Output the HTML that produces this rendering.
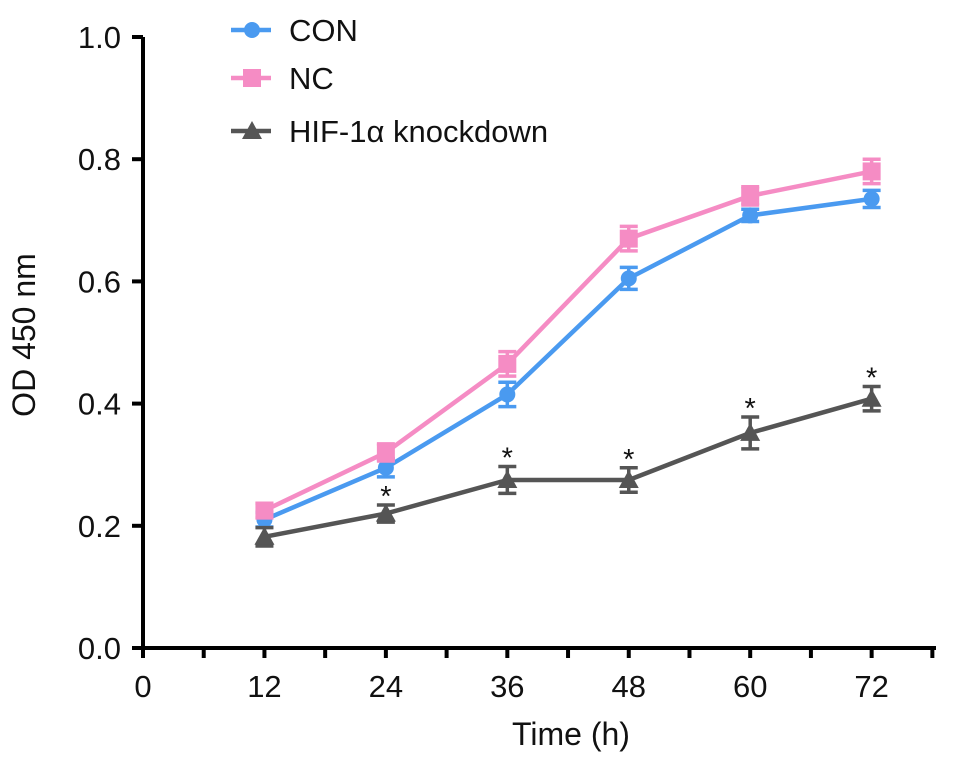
<!DOCTYPE html>
<html><head><meta charset="utf-8"><style>
body{margin:0;background:#fff}
svg text{font-family:"Liberation Sans",Arial,sans-serif;fill:#111}
</style></head><body>
<svg id="chart" width="969" height="763" viewBox="0 0 969 763" xmlns="http://www.w3.org/2000/svg">
<g id="axes"></g><g id="series"></g><g id="legend"></g>
</svg>
<script>
const hours=[12,24,36,48,60,72];
const conValues=[0.21,0.295,0.415,0.605,0.708,0.735];
const conErr=[0.012,0.015,0.02,0.018,0.01,0.014];
const ncValues=[0.225,0.32,0.465,0.67,0.74,0.78];
const ncErr=[0.012,0.014,0.02,0.02,0.015,0.02];
const hifValues=[0.182,0.22,0.275,0.275,0.352,0.408];
const hifErr=[0.015,0.014,0.022,0.02,0.026,0.02];
const xTicks=[0,12,24,36,48,60,72];
const yTicks=[0,0.2,0.4,0.6,0.8,1.0];
const NS="http://www.w3.org/2000/svg";
const X0=143,Y0=648;
function xs(h){return X0+(h)*10.12;}
function ys(v){return Y0-v*611;}
function mk(tag,attrs,parent){const e=document.createElementNS(NS,tag);for(const k in attrs)e.setAttribute(k,attrs[k]);parent.appendChild(e);return e;}
const ax=document.getElementById('axes');
let l=mk('line',{x1:X0,y1:ys(1.0),x2:X0,y2:Y0+2,stroke:'#000','stroke-width':4},ax);


l=mk('line',{x1:X0-2,y1:Y0,x2:936,y2:Y0,stroke:'#000','stroke-width':4},ax);


yTicks.forEach(v=>{
 mk('line',{x1:X0-11,y1:ys(v),x2:X0,y2:ys(v),stroke:'#000','stroke-width':4},ax);
 const t=mk('text',{x:X0-22,y:ys(v)+11,'text-anchor':'end','font-size':31},ax);
 t.textContent=v.toFixed(1);
 
 
});
for(let h=0;h<=78;h+=6){
 mk('line',{x1:xs(h),y1:Y0,x2:xs(h),y2:Y0+10,stroke:'#000','stroke-width':4},ax);
}
xTicks.forEach(h=>{
 const t=mk('text',{x:xs(h),y:697,'text-anchor':'middle','font-size':31},ax);
 t.textContent=h;
 
 
});
let t=mk('text',{x:571,y:745,'text-anchor':'middle','font-size':32},ax);
t.textContent='Time (h)';


t=mk('text',{x:0,y:0,'text-anchor':'middle','font-size':32,transform:'translate(35,335) rotate(-90)'},ax);
t.textContent='OD 450 nm';



const sg=document.getElementById('series');
function marker(shape,x,y,color,g){
 if(shape==='circle')mk('circle',{cx:x,cy:y,r:8,fill:color},g);
 else if(shape==='square')mk('rect',{x:x-9,y:y-9,width:18,height:18,fill:color},g);
 else mk('polygon',{points:`${x},${y-10} ${x+10},${y+8} ${x-10},${y+8}`,fill:color},g);
}
function series(name,vals,errs,color,shape){
 const g=mk('g',{},sg);
 
 
 mk('polyline',{points:hours.map((h,i)=>xs(h)+','+ys(vals[i])).join(' '),fill:'none',stroke:color,'stroke-width':4.5},g);
 hours.forEach((h,i)=>{
  const x=xs(h),a=ys(vals[i]+errs[i]),b=ys(vals[i]-errs[i]);
  mk('line',{x1:x,y1:a,x2:x,y2:b,stroke:color,'stroke-width':3.5},g);
  mk('line',{x1:x-9,y1:a,x2:x+9,y2:a,stroke:color,'stroke-width':3.5},g);
  mk('line',{x1:x-9,y1:b,x2:x+9,y2:b,stroke:color,'stroke-width':3.5},g);
  marker(shape,x,ys(vals[i]),color,g);
 });
 return g;
}
series('con',conValues,conErr,'#4a9af0','circle');
series('nc',ncValues,ncErr,'#f58cc4','square');
const hg=series('hif-knockdown',hifValues,hifErr,'#555','triangle');
hours.forEach((h,i)=>{
 if(i===0)return;
 const s=mk('text',{x:xs(h),y:ys(hifValues[i]+hifErr[i])+1,'text-anchor':'middle','font-size':29},hg);
 s.textContent='*';
 
 
});

const lg=document.getElementById('legend');
const items=[['CON','#4a9af0','circle',30],['NC','#f58cc4','square',78],['HIF-1\u03b1 knockdown','#555','triangle',131]];
items.forEach((it)=>{
 const y=it[3];
 const g=mk('g',{},lg);
 
 
 mk('line',{x1:231,y1:y,x2:271,y2:y,stroke:it[1],'stroke-width':4.5},g);
 marker(it[2],252,y,it[1],g);
 const tt=mk('text',{x:289,y:y+11,'font-size':31},g);
 tt.textContent=it[0];
});
</script>
</body></html>
